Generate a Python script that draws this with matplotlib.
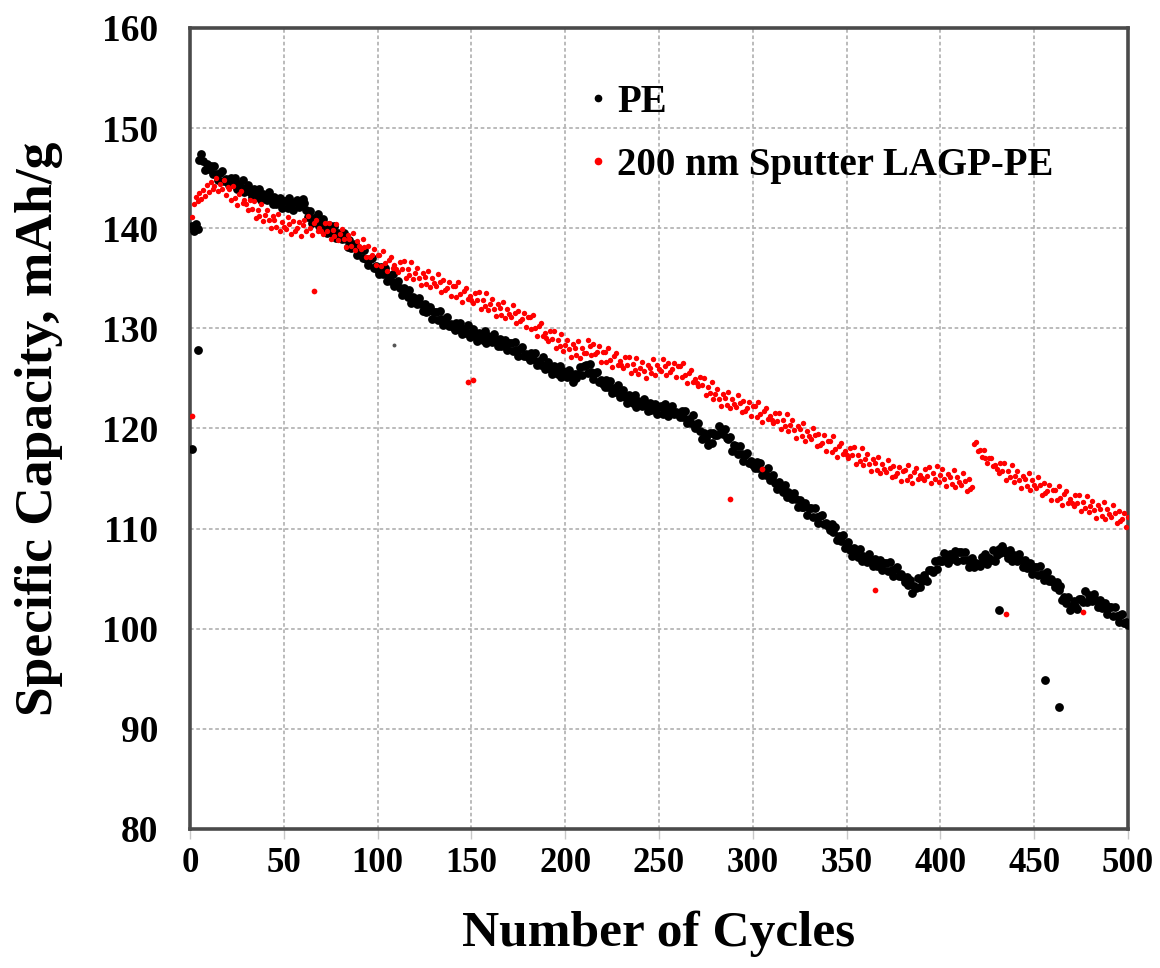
import matplotlib
matplotlib.use('Agg')
import matplotlib.pyplot as plt
from matplotlib.lines import Line2D

plt.rcParams['font.family'] = ['Liberation Serif', 'DejaVu Serif']
plt.rcParams['font.weight'] = 'bold'

# ---------------- data ----------------
cycles = list(range(1, 501))

pe_capacity = [
    140.2, 139.7, 140.4, 139.9, 146.8, 147.4, 146.7, 145.8, 146.4, 145.9,
    146.2, 145.4, 146.2, 145.4, 144.8, 145.5, 145.7, 144.7, 144.9, 144.6,
    144.3, 145.0, 144.4, 145.0, 143.9, 144.4, 144.0, 144.8, 143.6, 144.0,
    144.3, 143.6, 143.1, 143.9, 143.6, 143.1, 143.9, 142.8, 143.4, 143.0,
    142.8, 143.6, 143.0, 142.4, 143.1, 142.4, 142.6, 143.0, 142.0, 142.7,
    142.7, 142.0, 143.0, 142.3, 141.8, 142.6, 142.8, 142.1, 142.6, 142.9,
    142.5, 141.8, 141.1, 141.7, 140.5, 141.0, 140.6, 141.4, 140.2, 140.6,
    140.9, 140.1, 139.5, 140.3, 140.0, 139.4, 140.2, 139.0, 139.5, 139.1,
    138.9, 139.5, 138.9, 138.1, 138.8, 138.0, 138.1, 138.4, 137.3, 137.9,
    137.8, 137.0, 137.8, 136.9, 136.3, 136.9, 137.0, 136.0, 136.2, 135.8,
    135.4, 136.1, 135.4, 136.0, 134.7, 135.1, 134.7, 135.4, 134.2, 134.5,
    134.7, 134.0, 133.3, 134.0, 133.7, 133.1, 133.8, 132.5, 133.1, 132.6,
    132.4, 133.0, 132.4, 131.7, 132.4, 131.6, 131.7, 132.1, 130.9, 131.6,
    131.6, 130.8, 131.7, 130.9, 130.3, 130.9, 131.1, 130.2, 130.4, 130.1,
    129.8, 130.5, 129.9, 130.5, 129.4, 129.9, 129.5, 130.3, 129.1, 129.5,
    129.9, 129.2, 128.7, 129.5, 129.3, 128.8, 129.7, 128.5, 129.2, 128.8,
    128.6, 129.4, 128.8, 128.2, 128.9, 128.2, 128.4, 128.8, 127.8, 128.5,
    128.5, 127.7, 128.6, 127.8, 127.2, 127.9, 128.1, 127.2, 127.4, 127.1,
    126.8, 127.5, 126.9, 127.5, 126.3, 126.7, 126.3, 127.1, 125.9, 126.3,
    126.6, 125.9, 125.4, 126.2, 125.9, 125.4, 126.2, 125.1, 125.7, 125.3,
    125.1, 125.8, 125.2, 124.6, 125.4, 125.0, 125.4, 126.1, 125.3, 126.2,
    126.3, 125.5, 126.4, 125.6, 124.9, 125.5, 125.6, 124.6, 124.8, 124.4,
    124.1, 124.8, 124.1, 124.7, 123.5, 124.0, 123.6, 124.3, 123.1, 123.5,
    123.8, 123.1, 122.5, 123.3, 123.0, 122.5, 123.3, 122.1, 122.7, 122.3,
    122.2, 122.9, 122.4, 121.7, 122.5, 121.8, 122.0, 122.4, 121.4, 122.1,
    122.2, 121.4, 122.4, 121.7, 121.2, 121.9, 122.2, 121.4, 121.6, 121.4,
    121.1, 121.7, 121.1, 121.7, 120.5, 120.9, 120.5, 121.3, 120.0, 120.4,
    120.5, 119.7, 118.9, 119.5, 119.0, 118.4, 119.5, 118.6, 119.5, 119.3,
    119.3, 120.2, 119.9, 119.4, 119.9, 119.0, 118.9, 119.1, 117.8, 118.4,
    118.3, 117.5, 118.3, 117.5, 116.8, 117.4, 117.6, 116.6, 116.8, 116.4,
    116.1, 116.7, 116.1, 116.6, 115.4, 115.8, 115.4, 116.1, 114.9, 115.2,
    115.4, 114.6, 114.0, 114.7, 114.3, 113.7, 114.4, 113.2, 113.7, 113.2,
    113.0, 113.6, 113.0, 112.2, 112.9, 112.2, 112.2, 112.6, 111.4, 112.1,
    112.1, 111.2, 112.1, 111.2, 110.6, 111.3, 111.4, 110.5, 110.6, 110.3,
    109.9, 110.5, 109.7, 110.2, 108.9, 109.3, 108.8, 109.4, 108.1, 108.4,
    108.7, 107.9, 107.3, 108.1, 107.8, 107.2, 108.0, 106.8, 107.3, 106.9,
    106.7, 107.5, 106.9, 106.3, 107.0, 106.3, 106.5, 106.9, 105.9, 106.6,
    106.6, 105.8, 106.7, 105.9, 105.3, 106.0, 106.2, 105.3, 105.5, 105.2,
    104.7, 105.2, 104.4, 104.9, 103.6, 104.3, 104.1, 105.1, 104.2, 104.8,
    105.4, 105.0, 104.8, 105.9, 105.9, 105.7, 106.8, 106.0, 106.9, 106.8,
    106.8, 107.6, 107.2, 106.6, 107.5, 107.0, 107.2, 107.8, 106.8, 107.7,
    107.7, 106.9, 107.7, 106.9, 106.2, 106.9, 107.1, 106.2, 106.6, 106.5,
    106.3, 107.2, 106.7, 107.5, 106.5, 107.1, 106.9, 107.9, 106.8, 107.4,
    108.0, 107.6, 108.3, 107.9, 107.6, 107.1, 107.9, 106.8, 107.4, 107.0,
    106.8, 107.5, 106.9, 106.2, 106.9, 106.1, 106.2, 106.6, 105.5, 106.2,
    106.2, 105.4, 106.3, 105.5, 104.9, 105.5, 105.7, 104.8, 105.0, 104.7,
    104.2, 104.7, 103.9, 104.3, 102.9, 103.2, 102.6, 103.2, 101.9, 102.3,
    102.8, 102.3, 102.0, 103.0, 103.0, 102.7, 103.8, 102.7, 103.4, 103.0,
    102.8, 103.5, 102.9, 102.2, 102.9, 102.1, 102.2, 102.6, 101.5, 102.2,
    102.2, 101.3, 102.2, 101.3, 100.7, 101.4, 101.5, 100.6, 100.7, 100.4,
]

lagp_capacity = [
    141.1, 142.4, 143.1, 142.7, 143.5, 142.9, 143.8, 143.2, 144.3, 143.6,
    144.6, 143.9, 144.2, 145.0, 143.7, 144.4, 143.9, 144.8, 143.3, 144.1,
    143.9, 142.8, 144.2, 143.0, 142.3, 143.4, 143.7, 142.5, 142.8, 142.4,
    141.8, 142.8, 141.9, 142.7, 141.0, 141.8, 141.2, 142.4, 140.7, 141.3,
    141.8, 140.8, 140.0, 141.2, 140.8, 140.1, 141.4, 139.7, 140.6, 140.1,
    139.9, 141.1, 140.4, 139.4, 140.7, 139.7, 140.0, 140.6, 139.2, 140.3,
    140.8, 139.7, 141.2, 140.0, 139.3, 140.5, 140.8, 139.7, 140.0, 139.7,
    139.4, 140.5, 139.7, 140.5, 138.9, 139.8, 139.2, 140.4, 138.8, 139.4,
    139.9, 138.9, 138.1, 139.3, 138.9, 138.2, 139.5, 137.8, 138.7, 138.2,
    137.9, 138.9, 138.1, 137.1, 138.2, 137.1, 137.3, 137.9, 136.3, 137.3,
    137.3, 136.2, 137.7, 136.5, 135.7, 136.8, 137.1, 136.0, 136.3, 135.9,
    135.6, 136.6, 135.9, 136.7, 135.0, 135.9, 135.3, 136.6, 134.9, 135.5,
    136.0, 135.0, 134.3, 135.5, 135.1, 134.4, 135.7, 134.1, 135.0, 134.5,
    134.2, 135.4, 134.6, 133.6, 134.8, 133.8, 134.0, 134.6, 133.2, 134.2,
    134.2, 133.1, 134.6, 133.4, 132.6, 133.7, 134.0, 132.9, 133.2, 132.8,
    132.5, 133.5, 132.8, 133.6, 131.9, 132.8, 132.2, 133.5, 131.8, 132.4,
    132.9, 131.9, 131.2, 132.4, 132.0, 131.3, 132.6, 131.0, 131.9, 131.4,
    131.1, 132.3, 131.5, 130.5, 131.7, 130.7, 130.9, 131.5, 130.1, 131.1,
    131.1, 129.9, 131.3, 130.0, 129.2, 130.2, 130.5, 129.2, 129.5, 129.0,
    128.7, 129.7, 128.9, 129.7, 128.0, 128.8, 128.2, 129.4, 127.7, 128.3,
    128.8, 127.9, 127.1, 128.4, 128.0, 127.3, 128.7, 127.0, 128.0, 127.5,
    127.5, 128.8, 128.2, 127.3, 128.4, 127.4, 127.6, 128.2, 126.6, 127.6,
    127.6, 126.6, 128.0, 126.8, 126.1, 127.2, 127.5, 126.3, 126.7, 126.3,
    126.0, 127.1, 126.3, 127.1, 125.5, 126.4, 125.8, 127.0, 125.4, 126.0,
    126.6, 125.7, 125.0, 126.3, 126.0, 125.5, 126.9, 125.3, 126.3, 125.9,
    125.7, 126.9, 126.2, 125.3, 126.5, 125.6, 125.9, 126.5, 125.1, 126.2,
    126.2, 125.1, 126.5, 125.3, 124.5, 125.5, 125.8, 124.6, 124.9, 124.5,
    124.2, 125.1, 124.3, 125.0, 123.3, 124.1, 123.5, 124.6, 122.9, 123.4,
    123.9, 122.9, 122.2, 123.4, 123.0, 122.3, 123.6, 122.0, 122.9, 122.4,
    122.1, 123.3, 122.5, 121.6, 122.7, 121.7, 122.0, 122.6, 121.2, 122.2,
    122.2, 121.1, 122.6, 121.4, 120.6, 121.7, 122.0, 120.9, 121.2, 120.8,
    120.5, 121.5, 120.7, 121.5, 119.9, 120.8, 120.2, 121.4, 119.7, 120.3,
    120.8, 119.8, 119.0, 120.2, 119.9, 119.2, 120.5, 118.8, 119.7, 119.2,
    118.9, 120.0, 119.3, 118.3, 119.4, 118.4, 118.6, 119.3, 117.8, 118.8,
    118.8, 117.7, 119.2, 118.0, 117.2, 118.3, 118.6, 117.5, 117.8, 117.4,
    117.1, 118.1, 117.4, 118.2, 116.5, 117.4, 116.8, 118.1, 116.4, 117.0,
    117.5, 116.5, 115.8, 117.0, 116.6, 115.9, 117.2, 115.6, 116.5, 116.0,
    115.7, 116.9, 116.1, 115.2, 116.3, 115.3, 115.6, 116.2, 114.8, 115.8,
    115.9, 114.9, 116.4, 115.3, 114.6, 115.7, 116.1, 115.0, 115.4, 115.1,
    114.9, 116.0, 115.3, 116.2, 114.6, 115.6, 115.0, 116.3, 114.7, 115.4,
    116.0, 115.0, 114.3, 115.5, 115.2, 114.5, 115.9, 114.2, 115.2, 114.7,
    114.4, 115.6, 114.8, 113.8, 115.0, 114.0, 114.2, 118.5, 118.7, 117.8,
    117.9, 117.2, 117.9, 117.1, 116.6, 117.1, 117.1, 116.3, 116.4, 116.0,
    115.6, 116.6, 115.8, 116.6, 114.9, 115.8, 115.2, 116.4, 114.7, 115.3,
    115.8, 114.9, 114.1, 115.3, 115.0, 114.3, 115.6, 113.9, 114.9, 114.4,
    114.1, 115.2, 114.4, 113.4, 114.6, 113.6, 113.8, 114.4, 112.9, 113.9,
    113.9, 112.9, 114.3, 113.1, 112.4, 113.5, 113.8, 112.6, 113.0, 112.6,
    112.3, 113.4, 112.6, 113.4, 111.8, 112.7, 112.1, 113.3, 111.7, 112.3,
    112.8, 111.9, 111.1, 112.4, 112.0, 111.3, 112.7, 111.0, 112.0, 111.5,
    111.2, 112.4, 111.6, 110.6, 111.8, 110.8, 111.0, 111.6, 110.2, 111.2,
]

# isolated points away from the main bands
pe_outlier_cycles = [1, 4, 431, 456, 463]
pe_outlier_values = [118.0, 127.8, 101.9, 94.9, 92.2]
pe_faint_cycles = [109]
pe_faint_values = [128.3]

lagp_outlier_cycles = [1, 66, 148, 151, 288, 305, 365, 435, 476]
lagp_outlier_values = [121.2, 133.7, 124.6, 124.8, 113.0, 116.0, 103.9, 101.5, 101.7]

series_labels = ['PE', '200 nm Sputter LAGP-PE']
x_ticks = [0, 50, 100, 150, 200, 250, 300, 350, 400, 450, 500]
y_ticks = [80, 90, 100, 110, 120, 130, 140, 150, 160]

# ---------------- figure ----------------
fig = plt.figure(figsize=(11.6, 9.68), dpi=100)
ax = fig.add_axes([0.1638, 0.1436, 0.8086, 0.8275])

black = '#000000'
red = '#ff0000'

ax.scatter(cycles, pe_capacity, s=40, c=black, linewidths=0, zorder=3)
ax.scatter(pe_outlier_cycles, pe_outlier_values, s=40, c=black, linewidths=0, zorder=3)
ax.scatter(pe_faint_cycles, pe_faint_values, s=8, c='#555555', linewidths=0, zorder=3)
ax.scatter(cycles, lagp_capacity, s=15, c=red, linewidths=0, zorder=4)
ax.scatter(lagp_outlier_cycles, lagp_outlier_values, s=17, c=red, linewidths=0, zorder=4)

ax.set_xlim(0, 500)
ax.set_ylim(80, 160)
ax.set_xticks(x_ticks)
ax.set_yticks(y_ticks)
ax.set_xticklabels([str(t) for t in x_ticks])
ax.set_yticklabels([str(t) for t in y_ticks])

ax.grid(True, color='#b5b5b5', linestyle=(0, (2, 1.5)), linewidth=1.3, zorder=0)
ax.set_axisbelow(True)

for sp in ax.spines.values():
    sp.set_color('#4a4a4a')
    sp.set_linewidth(2.6)

ax.tick_params(axis='x', direction='out', length=7, width=1, color='#c8c8c8',
               labelsize=25, pad=6)
ax.tick_params(axis='y', length=0, labelsize=27, pad=23)
for lab in ax.get_xticklabels() + ax.get_yticklabels():
    lab.set_fontweight('bold')

ax.set_xlabel('Number of Cycles', fontsize=37, fontweight='bold', labelpad=22)
ax.set_ylabel('Specific Capacity, mAh/g', fontsize=38.5, fontweight='bold', labelpad=28)

handles = [
    Line2D([], [], linestyle='none', marker='o', markersize=4.5, color=black),
    Line2D([], [], linestyle='none', marker='o', markersize=4.5, color=red),
]
leg = ax.legend(handles, series_labels, loc='upper left', bbox_to_anchor=(0.41, 0.95),
                frameon=False, fontsize=28, handlelength=0.4, handletextpad=0.3,
                labelspacing=0.68, borderaxespad=0)
for t in leg.get_texts():
    t.set_fontweight('bold')

fig.savefig('out.png', dpi=100, facecolor='white')
